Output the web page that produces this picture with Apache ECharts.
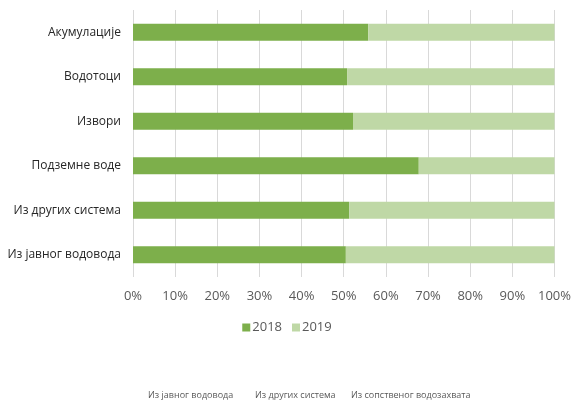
<!DOCTYPE html>
<html>
<head>
<meta charset="utf-8">
<script src="https://cdn.jsdelivr.net/npm/echarts@6/dist/echarts.min.js"></script>
<style>html,body{margin:0;padding:0;background:#fff}#c{width:574px;height:402px}</style>
</head>
<body>
<div id="c"></div>
<script>
const categories = ['Из јавног водовода', 'Из других система', 'Подземне воде', 'Извори', 'Водотоци', 'Акумулације'];
const values2018 = [50.5, 51.3, 67.8, 52.2, 50.8, 55.8];
const values2019 = [49.5, 48.7, 32.2, 47.8, 49.2, 44.2];
const seriesNames = ['2018', '2019'];
const tickLabels = ['0%','10%','20%','30%','40%','50%','60%','70%','80%','90%','100%'];
const footerTexts = ['Из јавног водовода', 'Из других система', 'Из сопственог водозахвата'];

const chart = echarts.init(document.getElementById('c'), null, {renderer: 'canvas'});
const font = '"Open Sans", "Noto Sans", sans-serif';
chart.setOption({
  animation: false,
  textStyle: {fontFamily: font},
  grid: {left: 133, right: 17, top: 10, height: 267, containLabel: false},
  legend: {
    data: seriesNames, left: 'center', top: 316, icon: 'rect', itemWidth: 8, itemHeight: 8, itemGap: 10,
    textStyle: {fontSize: 13, color: '#595959', fontFamily: font, padding: [0,0,0,-3]}
  },
  xAxis: {
    type: 'value', min: 0, max: 100, interval: 10,
    axisLine: {show: false}, axisTick: {show: false},
    splitLine: {show: true, lineStyle: {color: '#d9d9d9', width: 1}},
    axisLabel: {margin: 13, fontSize: 13, color: '#595959', fontFamily: font,
      formatter: (v) => tickLabels[Math.round(v / 10)]}
  },
  yAxis: {
    type: 'category', data: categories,
    axisLine: {show: false}, axisTick: {show: false},
    axisLabel: {margin: 12, fontSize: 12, color: '#262626', fontFamily: font}
  },
  series: [
    {name: seriesNames[0], type: 'bar', stack: 's', data: values2018, barWidth: '38%', itemStyle: {color: '#7daf4b'}},
    {name: seriesNames[1], type: 'bar', stack: 's', data: values2019, barWidth: '38%', itemStyle: {color: '#bfd8a6'}}
  ],
  graphic: footerTexts.map((t, i) => ({
    type: 'text', left: [148, 255, 351][i], top: 391,
    style: {text: t, fontSize: 9, fill: '#595959', fontFamily: font}
  }))
});
</script>
</body>
</html>
